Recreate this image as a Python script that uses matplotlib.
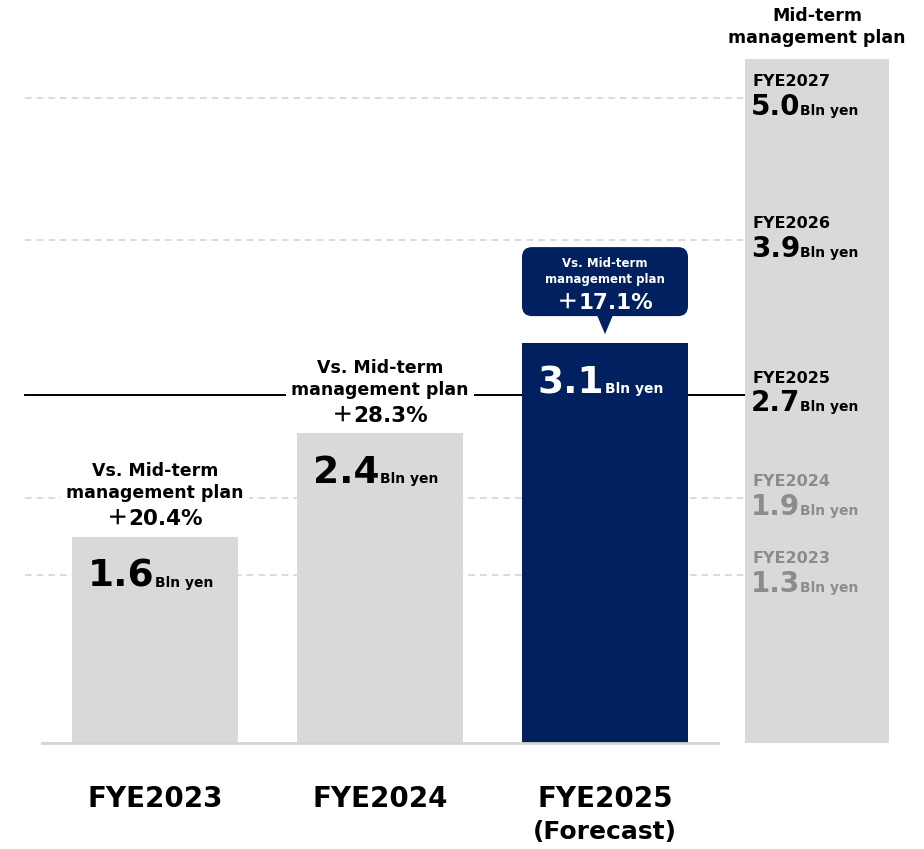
import matplotlib
matplotlib.use("Agg")
import matplotlib.pyplot as plt
from matplotlib.patches import FancyBboxPatch, Polygon
from matplotlib.offsetbox import TextArea, HPacker, AnnotationBbox

# Datos
categories = ["FYE2023", "FYE2024", "FYE2025\n(Forecast)"]
actuals = [1.6, 2.4, 3.1]
vs_plan = ["20.4%", "28.3%", "17.1%"]
plan_years = ["FYE2027", "FYE2026", "FYE2025", "FYE2024", "FYE2023"]
plan_values = [5.0, 3.9, 2.7, 1.9, 1.3]

GRAY = "#d9d9d9"
NAVY = "#002060"
GRID = "#d4d4d4"
MUTED = "#8c8c8c"

# escala: pixels por unidade, base em y=743
BASE = 743
SCALE = 129
W, H = 924, 849


def ypx(p):
    return (BASE - p) / SCALE


def pct_box(axis, text, xy, offset, color, coords="data"):
    # sinal de mais em largura total + numero
    plus = TextArea("＋", textprops=dict(fontsize=15.5, fontweight="bold", color=color,
                                         family=["Noto Sans CJK JP", "DejaVu Sans"]))
    num = TextArea(text, textprops=dict(fontsize=15.5, fontweight="bold", color=color))
    pack = HPacker(children=[plus, num], align="baseline", pad=0, sep=0)
    ab = AnnotationBbox(pack, xy, xycoords=coords, xybox=offset, boxcoords="offset points",
                        frameon=False, box_alignment=(0.5, 0.5), zorder=6)
    axis.add_artist(ab)


plt.rcParams['font.family'] = ['DejaVu Sans']

fig = plt.figure(figsize=(W / 100, H / 100), dpi=100)
ax = fig.add_axes([0, 0, 1, 1])
ax.set_xlim(0, W)
ax.set_ylim(ypx(H), ypx(0))
ax.axis("off")

# eixo auxiliar em pixels para o balao
ov = fig.add_axes([0, 0, 1, 1])
ov.set_xlim(0, W)
ov.set_ylim(H, 0)
ov.axis("off")
ov.patch.set_alpha(0)

xs = [155, 380, 605]
bar_w = 166
plan_x = 817
plan_w = 144

# linhas do plano
for yr, v in zip(plan_years, plan_values):
    if yr == "FYE2025":
        ax.plot([25, 745], [v, v], color="black", lw=1.4, zorder=1)
    else:
        ax.plot([25, 745], [v, v], color=GRID, lw=1.2, ls=(0, (4, 3)), zorder=1)

# coluna do plano
ax.bar(plan_x, max(plan_values) + 0.3, width=plan_w, color=GRAY, zorder=2)

# barras
colors = [GRAY, GRAY, NAVY]
ax.bar(xs, actuals, width=bar_w, color=colors, zorder=2)
ax.plot([42, 718], [0, 0], color=GRID, lw=2, zorder=3)

# valores dentro das barras
for i, (x, v) in enumerate(zip(xs, actuals)):
    c = "white" if i == 2 else "black"
    ax.annotate(f"{v:.1f}", (x - 1, v), xytext=(0, -36), textcoords="offset points",
                ha="right", va="baseline", fontsize=27, fontweight="bold", color=c, zorder=5)
    ax.annotate("Bln yen", (x, v), xytext=(0, -36), textcoords="offset points",
                ha="left", va="baseline", fontsize=10, fontweight="bold", color=c, zorder=5)

# rotulos "Vs. Mid-term"
for i in range(2):
    x, v = xs[i], actuals[i]
    box = dict(facecolor="white", edgecolor="none", pad=4)
    ax.annotate("Vs. Mid-term", (x, v), xytext=(0, 47), textcoords="offset points",
                ha="center", va="center", fontsize=12.5, fontweight="bold", zorder=4)
    ax.annotate("management plan", (x, v), xytext=(0, 31.5), textcoords="offset points",
                ha="center", va="center", fontsize=12.5, fontweight="bold", bbox=box, zorder=4)
    pct_box(ax, vs_plan[i], (x, v), (0, 13), "black")

# balao para FYE2025
x3 = xs[2]
top = BASE - actuals[2] * SCALE
b_bot = top - 27
b_top = top - 96
balloon = FancyBboxPatch((x3 - bar_w / 2, b_top), bar_w, b_bot - b_top,
                         boxstyle="round,pad=0,rounding_size=10",
                         facecolor=NAVY, edgecolor="none", zorder=4)
ov.add_patch(balloon)
ov.add_patch(Polygon([[x3 - 8, b_bot - 1], [x3 + 8, b_bot - 1], [x3, top - 9]],
                     closed=True, facecolor=NAVY, edgecolor="none", zorder=4))
ov.text(x3, b_top + 16, "Vs. Mid-term", ha="center", va="center",
        fontsize=8.5, fontweight="bold", color="white", zorder=5)
ov.text(x3, b_top + 32, "management plan", ha="center", va="center",
        fontsize=8.5, fontweight="bold", color="white", zorder=5)
pct_box(ov, vs_plan[2], (x3, b_top + 55), (0, 0), "white")

# textos da coluna do plano
ax.text(plan_x, ypx(16), "Mid-term", ha="center", va="center", fontsize=12.5, fontweight="bold")
ax.text(plan_x, ypx(38), "management plan", ha="center", va="center", fontsize=12.5, fontweight="bold")
for yr, v in zip(plan_years, plan_values):
    c = MUTED if yr in ("FYE2024", "FYE2023") else "black"
    ax.annotate(yr, (752, v), xytext=(0, 12), textcoords="offset points",
                ha="left", va="center", fontsize=11.5, fontweight="bold", color=c, zorder=5)
    ax.annotate(f"{v:.1f}", (751, v), xytext=(0, -12), textcoords="offset points",
                ha="left", va="baseline", fontsize=20, fontweight="bold", color=c, zorder=5)
    ax.annotate("Bln yen", (800, v), xytext=(0, -12), textcoords="offset points",
                ha="left", va="baseline", fontsize=10, fontweight="bold", color=c, zorder=5)

# categorias
for x, cat in zip(xs, categories):
    lines = cat.split("\n")
    ax.text(x, ypx(799), lines[0], ha="center", va="center", fontsize=20, fontweight="bold")
    if len(lines) > 1:
        ax.text(x, ypx(832), lines[1], ha="center", va="center", fontsize=18, fontweight="bold")

fig.savefig("out.png", dpi=100)
